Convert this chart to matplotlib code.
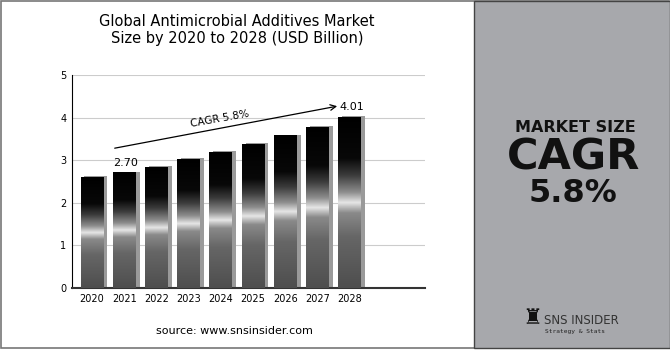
import numpy as np
import matplotlib.pyplot as plt
from matplotlib.colors import LinearSegmentedColormap
from matplotlib.patches import Rectangle

years = ['2020', '2021', '2022', '2023', '2024', '2025', '2026', '2027', '2028']
values = [2.60, 2.70, 2.84, 3.02, 3.18, 3.38, 3.57, 3.77, 4.01]
labelled = {1: '2.70', 8: '4.01'}

plt.rcParams['font.family'] = ['DejaVu Sans']

fig = plt.figure(figsize=(6.7, 3.5), dpi=100)

# frame + right panel
fig.patches.append(Rectangle((0.002, 0.006), 0.996, 0.99, transform=fig.transFigure,
                             fill=False, edgecolor='#777777', linewidth=1.2))
fig.patches.append(Rectangle((474/670, 0.006), 1 - 474/670, 0.99, transform=fig.transFigure,
                             facecolor='#a7a8ac', edgecolor='#444444', linewidth=1.0))

ax = fig.add_axes([72/670, 62/350, (425-72)/670, (288-75)/350])

cmap = LinearSegmentedColormap.from_list('bar', [
    (0.0, '#4e4e4e'), (0.3, '#666666'), (0.44, '#8a8a8a'), (0.5, '#e6e6e6'),
    (0.56, '#8e8e8e'), (0.66, '#3c3c3c'), (0.76, '#080808'), (1.0, '#000000')])
grad = np.linspace(0, 1, 256).reshape(-1, 1)

w = 0.71
x = np.arange(len(years))
for i, v in enumerate(values):
    ax.add_patch(Rectangle((x[i] - w/2 + 0.12, 0), w, v + 0.03,
                           facecolor='#9a9a9a', edgecolor='none', zorder=2))
    ax.imshow(grad, cmap=cmap, origin='lower', aspect='auto',
              extent=[x[i] - w/2, x[i] + w/2, 0, v], zorder=3)
    if i in labelled:
        ax.text(x[i] + 0.05, v + 0.12, labelled[i], ha='center', va='bottom',
                fontsize=8, zorder=5)

ax.set_xlim(-0.62, 10.33)
ax.set_ylim(0, 5)
ax.set_yticks(range(6))
ax.set_xticks(x)
ax.set_xticklabels(years)
ax.tick_params(length=0, labelsize=7, pad=4)
ax.grid(axis='y', color='#cccccc', linewidth=0.8, zorder=0)
ax.set_axisbelow(True)
for s in ['top', 'right']:
    ax.spines[s].set_visible(False)
ax.spines['left'].set_color('black')
ax.spines['bottom'].set_color('#333333')
ax.spines['bottom'].set_linewidth(1.5)

# CAGR arrow
ax.annotate('', xy=(7.69, 4.28), xytext=(0.62, 3.27),
            arrowprops=dict(arrowstyle='->', color='black', lw=0.9), zorder=6)
ax.text(3.95, 3.98, 'CAGR 5.8%', rotation=10, ha='center', va='center', fontsize=7.5)

fig.text(237/670, 1 - 30/350, 'Global Antimicrobial Additives Market\nSize by 2020 to 2028 (USD Billion)',
         ha='center', va='center', fontsize=10.5, linespacing=1.15)
fig.text(234/670, 1 - 331/350, 'source: www.snsinsider.com', ha='center', va='center', fontsize=8)

fig.text(575/670, 1 - 128/350, 'MARKET SIZE', ha='center', va='center',
         fontsize=11.5, fontweight='bold', color='#111111')
fig.text(574/670, 1 - 157/350, 'CAGR', ha='center', va='center',
         fontsize=31, fontweight='bold', color='#111111')
fig.text(573/670, 1 - 194/350, '5.8%', ha='center', va='center',
         fontsize=23, fontweight='bold', color='#111111')

fig.text(532/670, 1 - 318/350, '\u265c', ha='center', va='center', fontsize=16,
         color='#111111')
fig.text(544/670, 1 - 321/350, 'SNS INSIDER', ha='left', va='center', fontsize=8.5, color='#333333')
fig.text(545/670, 1 - 331/350, 'Strategy & Stats', ha='left', va='center', fontsize=4.5,
         color='#222222', family='DejaVu Sans Mono')

fig.savefig('out.png', dpi=100)
